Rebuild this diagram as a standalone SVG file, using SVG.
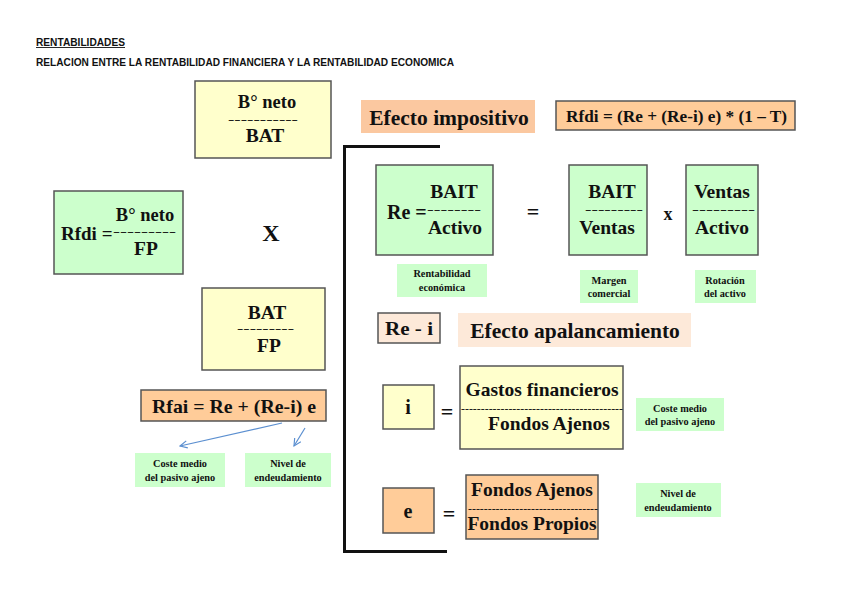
<svg xmlns="http://www.w3.org/2000/svg" width="848" height="599" viewBox="0 0 848 599">
<defs>
<style>
.t{font-family:"Liberation Serif","Times New Roman",serif;font-weight:bold;fill:#111}
.d{font-family:"Liberation Serif","Times New Roman",serif;font-weight:bold;fill:#111;font-size:10px}
.h{font-family:"Liberation Sans",Arial,sans-serif;font-weight:bold;font-size:10px;fill:#111}
.y{fill:#FFFFCC;stroke:#555;stroke-width:1.5}
.g{fill:#CCFFCC;stroke:#555;stroke-width:1.5}
.o{fill:#FFCC99;stroke:#555;stroke-width:1.5}
.lg{fill:#CCFFCC}
.s{font-size:10.3px}
.b{font-size:19.5px}
.arr{stroke:#5B8FD0;stroke-width:1.2;fill:none}
</style>
<marker id="ah" viewBox="0 0 10 10" refX="9" refY="5" markerWidth="9" markerHeight="9" orient="auto" markerUnits="userSpaceOnUse">
<path d="M1,1 L9,5 L1,9" fill="none" stroke="#5B8FD0" stroke-width="1.3"/>
</marker>
</defs>
<rect width="848" height="599" fill="#fff"/>
<text class="h" x="36" y="46" textLength="89" lengthAdjust="spacingAndGlyphs">RENTABILIDADES</text>
<line x1="36" y1="47.5" x2="125" y2="47.5" stroke="#111" stroke-width="0.9"/>
<text class="h" x="36" y="66" textLength="418" lengthAdjust="spacingAndGlyphs">RELACION ENTRE LA RENTABILIDAD FINANCIERA Y LA RENTABILIDAD ECONOMICA</text>

<g id="bneto-bat">
<rect class="y" x="195" y="81" width="136" height="77"/>
<text class="t" x="267" y="108" font-size="18.5" text-anchor="middle">B° neto</text>
<text class="d" x="228" y="123" textLength="70" lengthAdjust="spacingAndGlyphs">-----------</text>
<text class="t b" x="265" y="142" text-anchor="middle">BAT</text>
</g>

<g id="rfdi">
<rect class="g" x="54" y="191" width="129" height="83"/>
<text class="t" x="61" y="240" font-size="19">Rfdi =</text>
<text class="t" x="145" y="221" font-size="18.5" text-anchor="middle">B° neto</text>
<text class="d" x="113" y="235" textLength="63" lengthAdjust="spacingAndGlyphs">---------</text>
<text class="t b" x="146" y="255" text-anchor="middle">FP</text>
</g>

<g id="x1"><text class="t" x="271" y="241" font-size="24" text-anchor="middle">X</text></g>

<g id="bat-fp">
<rect class="y" x="202" y="288" width="123" height="82"/>
<text class="t b" x="267" y="319" text-anchor="middle">BAT</text>
<text class="d" x="237" y="332" textLength="57" lengthAdjust="spacingAndGlyphs">---------</text>
<text class="t b" x="269" y="352" text-anchor="middle">FP</text>
</g>

<g id="rfai">
<rect class="o" x="141" y="390" width="185" height="31"/>
<text class="t" x="152" y="413" font-size="19" textLength="164" lengthAdjust="spacingAndGlyphs">Rfai = Re + (Re-i) e</text>
</g>

<g id="coste1">
<rect class="lg" x="135" y="453" width="90" height="34"/>
<text class="t s" x="180" y="467" text-anchor="middle">Coste medio</text>
<text class="t s" x="180" y="481" text-anchor="middle">del pasivo ajeno</text>
</g>
<g id="nivel1">
<rect class="lg" x="245" y="453" width="86" height="34"/>
<text class="t s" x="288" y="467" text-anchor="middle">Nivel de</text>
<text class="t s" x="288" y="481" text-anchor="middle">endeudamiento</text>
</g>

<g id="connectors">
<line class="arr" x1="282" y1="423" x2="180" y2="446" marker-end="url(#ah)"/>
<line class="arr" x1="305" y1="428" x2="294" y2="446" marker-end="url(#ah)"/>
<path d="M440,146.5 H344.5 V551.5 H447" fill="none" stroke="#111" stroke-width="3"/>
</g>

<g id="efecto-impositivo">
<rect x="361" y="100" width="174" height="33" fill="#FBC8A0"/>
<text class="t" x="449" y="125" font-size="21.5" text-anchor="middle">Efecto impositivo</text>
</g>
<g id="rfdi-formula">
<rect class="o" x="556" y="101" width="239" height="29"/>
<text class="t" x="566" y="122" font-size="17" textLength="221" lengthAdjust="spacingAndGlyphs">Rfdi = (Re + (Re-i) e) * (1 – T)</text>
</g>

<g id="re">
<rect class="g" x="376" y="165" width="117" height="90"/>
<text class="t" x="387" y="219" font-size="20">Re =</text>
<text class="t b" x="454" y="198" text-anchor="middle">BAIT</text>
<text class="d" x="427" y="213" textLength="54" lengthAdjust="spacingAndGlyphs">--------</text>
<text class="t b" x="455" y="234" text-anchor="middle">Activo</text>
</g>
<g id="eq1"><text class="t" x="533" y="219" font-size="22" text-anchor="middle">=</text></g>
<g id="bait-ventas">
<rect class="g" x="569" y="165" width="78" height="90"/>
<text class="t b" x="612" y="198" text-anchor="middle">BAIT</text>
<text class="d" x="585" y="213" textLength="58" lengthAdjust="spacingAndGlyphs">---------</text>
<text class="t b" x="607" y="234" text-anchor="middle">Ventas</text>
</g>
<g id="x2"><text class="t" x="668" y="220" font-size="18" text-anchor="middle">x</text></g>
<g id="ventas-activo">
<rect class="g" x="686" y="165" width="72" height="90"/>
<text class="t b" x="722" y="198" text-anchor="middle">Ventas</text>
<text class="d" x="692" y="213" textLength="63" lengthAdjust="spacingAndGlyphs">---------</text>
<text class="t b" x="722" y="234" text-anchor="middle">Activo</text>
</g>

<g id="rent-eco">
<rect class="lg" x="397" y="264" width="90" height="33"/>
<text class="t s" x="442" y="277" text-anchor="middle">Rentabilidad</text>
<text class="t s" x="442" y="291" text-anchor="middle">económica</text>
</g>
<g id="margen">
<rect class="lg" x="580" y="270" width="58" height="33"/>
<text class="t s" x="609" y="284" text-anchor="middle">Margen</text>
<text class="t s" x="609" y="297" text-anchor="middle">comercial</text>
</g>
<g id="rotacion">
<rect class="lg" x="695" y="270" width="61" height="33"/>
<text class="t s" x="725" y="284" text-anchor="middle">Rotación</text>
<text class="t s" x="725" y="297" text-anchor="middle">del activo</text>
</g>

<g id="re-i">
<rect x="378" y="313" width="62" height="30" fill="#FDE9D9" stroke="#555" stroke-width="1.5"/>
<text class="t" x="385" y="335" font-size="19" textLength="48" lengthAdjust="spacingAndGlyphs">Re - i</text>
</g>
<g id="efecto-apalancamiento">
<rect x="458" y="313" width="233" height="34" fill="#FDE9D9"/>
<text class="t" x="575" y="338" font-size="21.5" text-anchor="middle">Efecto apalancamiento</text>
</g>

<g id="i">
<rect class="y" x="383" y="385" width="51" height="44"/>
<text class="t" x="408" y="414" font-size="20" text-anchor="middle">i</text>
</g>
<g id="eq2"><text class="t" x="447" y="419" font-size="22" text-anchor="middle">=</text></g>
<g id="gastos">
<rect class="y" x="460" y="366" width="163" height="83"/>
<text class="t b" x="542" y="396" text-anchor="middle">Gastos financieros</text>
<text class="d" x="461" y="411.5" textLength="162" lengthAdjust="spacingAndGlyphs">-----------------------------------------</text>
<text class="t b" x="549" y="430" text-anchor="middle">Fondos Ajenos</text>
</g>
<g id="coste2">
<rect class="lg" x="636" y="398" width="88" height="33"/>
<text class="t s" x="680" y="412" text-anchor="middle" font-weight="normal">Coste medio</text>
<text class="t s" x="680" y="425" text-anchor="middle" font-weight="normal">del pasivo ajeno</text>
</g>

<g id="e">
<rect class="o" x="383" y="488" width="51" height="45"/>
<text class="t" x="408" y="518" font-size="20" text-anchor="middle">e</text>
</g>
<g id="eq3"><text class="t" x="449" y="521" font-size="22" text-anchor="middle">=</text></g>
<g id="fondos">
<rect class="o" x="466" y="475" width="132" height="64"/>
<text class="t b" x="532" y="496" text-anchor="middle">Fondos Ajenos</text>
<text class="d" x="468" y="511.5" textLength="130" lengthAdjust="spacingAndGlyphs">---------------------------------</text>
<text class="t b" x="532" y="530" text-anchor="middle">Fondos Propios</text>
</g>
<g id="nivel2">
<rect class="lg" x="636" y="483" width="85" height="34"/>
<text class="t s" x="678" y="497" text-anchor="middle">Nivel de</text>
<text class="t s" x="678" y="511" text-anchor="middle">endeudamiento</text>
</g>
</svg>
